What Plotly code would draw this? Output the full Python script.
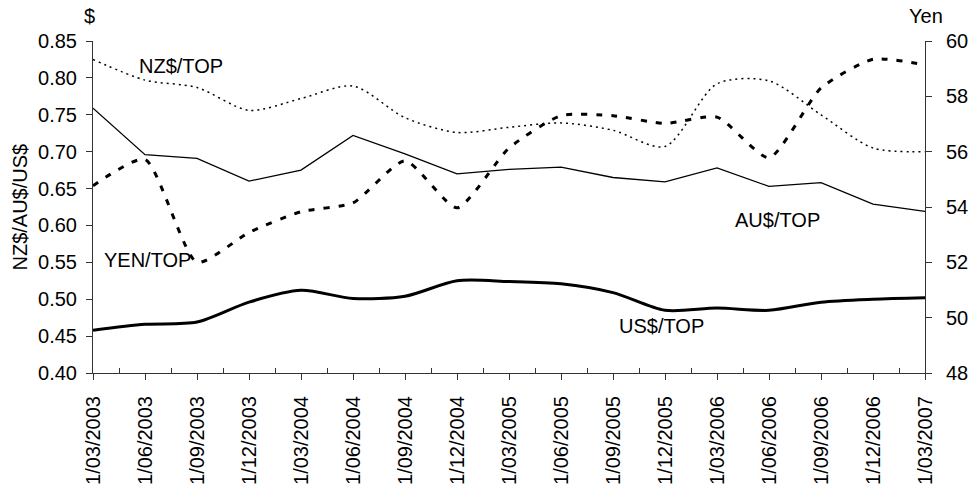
import plotly.graph_objects as go

dates = ["1/03/2003", "1/06/2003", "1/09/2003", "1/12/2003", "1/03/2004", "1/06/2004",
         "1/09/2004", "1/12/2004", "1/03/2005", "1/06/2005", "1/09/2005", "1/12/2005",
         "1/03/2006", "1/06/2006", "1/09/2006", "1/12/2006", "1/03/2007"]

nz_top = [0.825, 0.797, 0.787, 0.756, 0.772, 0.789, 0.746, 0.726, 0.733, 0.739,
          0.729, 0.707, 0.792, 0.796, 0.750, 0.705, 0.700]
au_top = [0.759, 0.696, 0.691, 0.660, 0.675, 0.722, 0.697, 0.670, 0.676, 0.679,
          0.665, 0.659, 0.678, 0.653, 0.658, 0.629, 0.619]
us_top = [0.458, 0.466, 0.469, 0.496, 0.512, 0.501, 0.504, 0.525, 0.524, 0.521,
          0.509, 0.485, 0.488, 0.485, 0.496, 0.500, 0.502]
yen_top = [54.77, 55.72, 52.0, 53.08, 53.83, 54.15, 55.67, 53.97, 56.13, 57.3,
           57.3, 57.02, 57.25, 55.78, 58.3, 59.34, 59.14]

left_ticks = [0.40, 0.45, 0.50, 0.55, 0.60, 0.65, 0.70, 0.75, 0.80, 0.85]
right_ticks = [48, 50, 52, 54, 56, 58, 60]

x = list(range(len(dates)))
FONT = "Liberation Sans, Arial, sans-serif"

fig = go.Figure()
fig.add_trace(go.Scatter(x=x, y=nz_top, mode="lines", name="NZ$/TOP",
                         line=dict(color="black", width=1.5, dash="2px,4px", shape="spline", smoothing=0.8)))
fig.add_trace(go.Scatter(x=x, y=au_top, mode="lines", name="AU$/TOP",
                         line=dict(color="black", width=1.3)))
fig.add_trace(go.Scatter(x=x, y=us_top, mode="lines", name="US$/TOP",
                         line=dict(color="black", width=3, shape="spline", smoothing=0.8)))
fig.add_trace(go.Scatter(x=x, y=yen_top, mode="lines", name="YEN/TOP", yaxis="y2",
                         line=dict(color="black", width=3, dash="6px,9px", shape="spline", smoothing=0.6)))

axis_common = dict(showline=True, linecolor="#333", linewidth=1, showgrid=False, zeroline=False,
                   tickfont=dict(family=FONT, size=20, color="black"), ticks="outside",
                   ticklen=6, tickcolor="#333")

fig.update_layout(
    width=980, height=497,
    margin=dict(l=93, r=43, t=41, b=108),
    paper_bgcolor="white", plot_bgcolor="white",
    showlegend=False,
    xaxis=dict(range=[0, 16], tickvals=x, ticktext=dates, tickangle=-90, ticklabelstandoff=8,
               minor=dict(tickvals=[i + 0.5 for i in x[:-1]], ticks="inside", ticklen=5, tickcolor="#333"),
               **axis_common),
    yaxis=dict(range=[0.40, 0.85], tickvals=left_ticks, tickformat=".2f", ticklabelstandoff=5,
               **axis_common),
    yaxis2=dict(range=[48, 60], tickvals=right_ticks, overlaying="y", side="right",
                ticklabelstandoff=10, **axis_common),
    annotations=[
        dict(text="NZ$/AU$/US$", xref="paper", yref="paper", x=-0.0883, y=0.5, textangle=-90,
             showarrow=False, xanchor="center", yanchor="middle", font=dict(family=FONT, size=20, color="black")),
        dict(text="$", xref="paper", yref="paper", x=-0.0047, y=1.0747, showarrow=False,
             xanchor="center", yanchor="middle", font=dict(family=FONT, size=20, color="black")),
        dict(text="Yen", xref="paper", yref="paper", x=1.0012, y=1.0747, showarrow=False,
             xanchor="center", yanchor="middle", font=dict(family=FONT, size=20, color="black")),
        dict(text="NZ$/TOP", xref="x", yref="y", x=1.687, y=0.8164, showarrow=False,
             xanchor="center", yanchor="middle", font=dict(family=FONT, size=20, color="black")),
        dict(text="AU$/TOP", xref="x", yref="y", x=13.16, y=0.6069, showarrow=False,
             xanchor="center", yanchor="middle", font=dict(family=FONT, size=20, color="black")),
        dict(text="YEN/TOP", xref="x", yref="y", x=1.043, y=0.5526, showarrow=False,
             xanchor="center", yanchor="middle", font=dict(family=FONT, size=20, color="black")),
        dict(text="US$/TOP", xref="x", yref="y", x=10.94, y=0.4634, showarrow=False,
             xanchor="center", yanchor="middle", font=dict(family=FONT, size=20, color="black")),
    ],
)

fig.write_html("out.html", config={"displayModeBar": False},
               post_script="document.body.style.margin='0';document.body.style.overflow='hidden';")
